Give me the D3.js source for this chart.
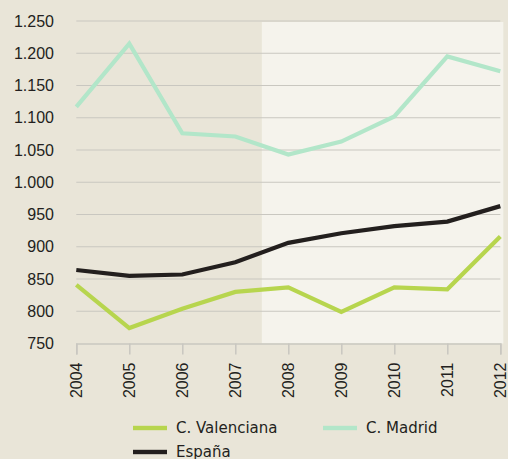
<!DOCTYPE html>
<html><head><meta charset="utf-8">
<script src="https://cdn.jsdelivr.net/npm/d3@7"></script>
<style>
html,body{margin:0;padding:0;background:#E9E5D8;}
svg{display:block;}
</style></head>
<body>
<svg id="chart" width="508" height="459"></svg>
<script>
const years = [2004, 2005, 2006, 2007, 2008, 2009, 2010, 2011, 2012];
const valenciana = [841, 774, 804, 830, 837, 799, 837, 834, 916];
const madrid = [1117, 1215, 1076, 1071, 1043, 1063, 1102, 1195, 1172];
const espana = [864, 855, 857, 876, 906, 921, 932, 939, 963];
const yTicks = [750, 800, 850, 900, 950, 1000, 1050, 1100, 1150, 1200, 1250];
const seriesNames = ["C. Valenciana", "C. Madrid", "España"];
const seriesColors = ["#B7D54E", "#B2E6C9", "#231F1E"];
const shadeFrom = 2007.5;

const W = 508, H = 459;
const svg = d3.select("#chart");
const x = d3.scaleLinear().domain([2004, 2012]).range([76.3, 500.3]);
const y = d3.scaleLinear().domain([750, 1250]).range([343.5, 21]);

const loc = d3.formatLocale({decimal: ",", thousands: ".", grouping: [3], currency: ["", "€"]});
const fmt = loc.format(",d");

svg.append("rect").attr("width", W).attr("height", H).attr("fill", "#E9E5D8");
// lighter period background
svg.append("rect")
  .attr("x", x(shadeFrom)).attr("y", y(1250) + 1)
  .attr("width", x(2012) + 3 - x(shadeFrom))
  .attr("height", y(750) - y(1250) - 1)
  .attr("fill", "#F5F3EC");

// gridlines
svg.append("g").selectAll("line").data(yTicks.slice(1)).join("line")
  .attr("x1", x(2004)).attr("x2", x(2012))
  .attr("y1", d => y(d)).attr("y2", d => y(d))
  .attr("stroke", "#C9C7C0").attr("stroke-width", 1.2);

// y labels
svg.append("g").selectAll("text").data(yTicks).join("text")
  .attr("x", 54).attr("y", d => y(d)).attr("dy", "0.35em")
  .attr("text-anchor", "end")
  .attr("font-family", "Liberation Sans, Arial, sans-serif")
  .attr("font-size", 16).attr("fill", "#231F20")
  .text(d => fmt(d));

// x axis
const xAxis = d3.axisBottom(x).tickValues(years).tickFormat(d3.format("d")).tickSize(11).tickPadding(8);
const gx = svg.append("g").attr("transform", `translate(0,${y(750)})`).call(xAxis);
gx.select(".domain").attr("stroke", "#C9C7C0").attr("stroke-width", 1.5);
gx.selectAll(".tick line").attr("stroke", "#C9C7C0").attr("stroke-width", 1.5);
gx.selectAll(".tick text")
  .attr("font-family", "Liberation Sans, Arial, sans-serif")
  .attr("font-size", 16).attr("fill", "#231F20")
  .attr("transform", "rotate(-90)")
  .attr("text-anchor", "end")
  .attr("x", -19).attr("y", 0).attr("dy", "0.35em");

// lines
const line = d3.line().x((d, i) => x(years[i])).y(d => y(d));
const seriesData = [madrid, valenciana, espana];
const seriesCol = [seriesColors[1], seriesColors[0], seriesColors[2]];
seriesData.forEach((s, k) => {
  svg.append("path").datum(s).attr("d", line)
    .attr("fill", "none").attr("stroke", seriesCol[k]).attr("stroke-width", 4.2);
});

// legend
const legendItems = [
  {name: seriesNames[0], color: seriesColors[0], lx: 133, ly: 428},
  {name: seriesNames[1], color: seriesColors[1], lx: 323, ly: 428},
  {name: seriesNames[2], color: seriesColors[2], lx: 133, ly: 452}
];
const lg = svg.append("g").selectAll("g").data(legendItems).join("g")
  .attr("transform", d => `translate(${d.lx},${d.ly})`);
lg.append("rect").attr("x", 0).attr("y", -2.2).attr("width", 34).attr("height", 4.4)
  .attr("fill", d => d.color);
lg.append("text").attr("x", 43).attr("y", 0).attr("dy", "0.35em")
  .attr("font-family", "DejaVu Sans, sans-serif")
  .attr("font-size", 15).attr("fill", "#231F20")
  .text(d => d.name);
</script>
</body></html>
